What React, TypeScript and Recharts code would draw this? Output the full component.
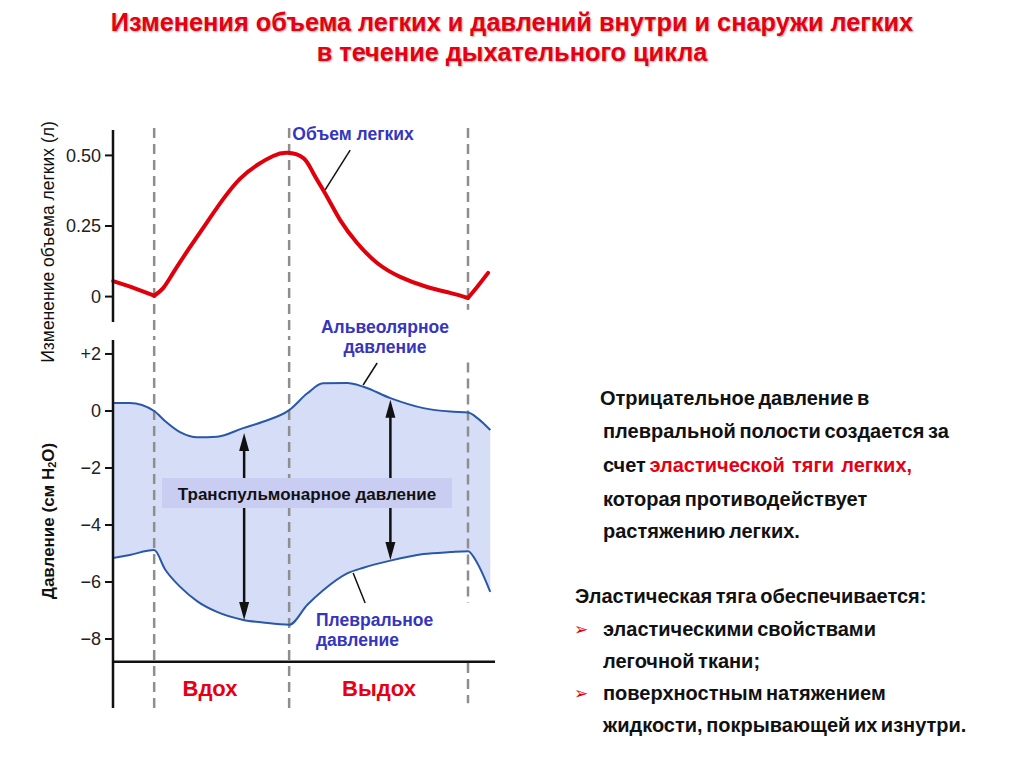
import React from 'react';
import { ComposedChart, Line, Area, XAxis, YAxis, ReferenceLine } from 'recharts';

// time axis (s): 0 = start of inspiration, 2 = start of expiration, 4.65 = end of cycle
const volumeTime = [-0.607, -0.356, 0, 0.133, 0.281, 0.533, 0.785, 1.022, 1.274, 1.526, 1.763, 1.97, 2.207, 2.356, 2.563, 2.756, 3.007, 3.304, 3.644, 4.044, 4.385, 4.65, 4.785, 4.948];
const volumeValues = [0.055, 0.035, 0.003, 0.03, 0.084, 0.176, 0.264, 0.345, 0.418, 0.466, 0.498, 0.509, 0.491, 0.438, 0.353, 0.271, 0.19, 0.119, 0.07, 0.034, 0.013, -0.005, 0.034, 0.084];

const pressureTime = [-0.61, -0.36, 0, 0.16, 0.39, 0.64, 0.93, 1.32, 1.61, 2.0, 2.27, 2.5, 2.86, 3.1, 3.5, 3.99, 4.39, 4.65, 4.79, 4.98];
const alveolarValues = [0.28, 0.28, 0, -0.35, -0.75, -0.92, -0.9, -0.6, -0.38, 0.03, 0.62, 0.97, 0.98, 0.85, 0.45, 0.1, -0.02, -0.05, -0.25, -0.67];
const pleuralValues = [-5.16, -5.05, -4.88, -5.55, -6.18, -6.68, -7.05, -7.33, -7.42, -7.5, -6.8, -6.3, -5.7, -5.5, -5.25, -5.02, -4.95, -4.92, -5.35, -6.35];

const phaseMarks = [0, 2, 4.65];
const volumeTicks = [0, 0.25, 0.5];
const volumeTickLabels = ['0', '0.25', '0.50'];
const pressureTicks = [2, 0, -2, -4, -6, -8];
const pressureTickLabels = ['+2', '0', '\u22122', '\u22124', '\u22126', '\u22128'];

// split the volume trace at the phase marks so the turning points stay sharp
const volumeData = volumeTime.map((t, i) => ({
  t,
  v0: t <= phaseMarks[0] ? volumeValues[i] : null,
  v1: t >= phaseMarks[0] && t <= phaseMarks[2] ? volumeValues[i] : null,
  v2: t >= phaseMarks[2] ? volumeValues[i] : null,
}));
const pressureData = pressureTime.map((t, i) => ({
  t,
  alv: alveolarValues[i],
  pl: pleuralValues[i],
  range: [pleuralValues[i], alveolarValues[i]],
}));

const FONT = '"Liberation Sans", Arial, sans-serif';
const DASH = { stroke: '#8e8e8e', strokeWidth: 2.5, strokeDasharray: '10 6' };
const BLUE = '#3535bd';
const RED = '#e60012';
const VOL = { stroke: '#e0000c', strokeWidth: 4, dot: false, isAnimationActive: false, strokeLinecap: 'round' as const };

const DoubleArrow = (props: any) => {
  const { x1, y1, y2 } = props;
  const top = Math.min(y1, y2);
  const bot = Math.max(y1, y2);
  return (
    <g>
      <line x1={x1} y1={top + 12} x2={x1} y2={bot - 12} stroke="#111" strokeWidth={2.5} />
      <polygon points={`${x1},${top} ${x1 - 5},${top + 18} ${x1 + 5},${top + 18}`} fill="#111" />
      <polygon points={`${x1},${bot} ${x1 - 5},${bot - 18} ${x1 + 5},${bot - 18}`} fill="#111" />
    </g>
  );
};

const tickStyle = { fontSize: 18, fill: '#222', fontFamily: FONT };

const rightLines: { x: number; y: number; text: React.ReactNode; bullet?: boolean }[] = [
  { x: 600, y: 398, text: 'Отрицательное давление в' },
  { x: 603, y: 431, text: 'плевральной полости создается за' },
  { x: 603, y: 465, text: <>счет <span style={{ color: RED }}>эластической&nbsp; тяги&nbsp; легких,</span></> },
  { x: 603, y: 499, text: 'которая противодействует' },
  { x: 603, y: 531, text: 'растяжению легких.' },
  { x: 575, y: 596, text: 'Эластическая тяга обеспечивается:' },
  { x: 603, y: 629, text: 'эластическими свойствами', bullet: true },
  { x: 603, y: 661, text: 'легочной ткани;' },
  { x: 603, y: 693, text: 'поверхностным натяжением', bullet: true },
  { x: 603, y: 725, text: 'жидкости, покрывающей их изнутри.' },
];

export default function App() {
  return (
    <div style={{ position: 'absolute', left: 0, top: 0, width: 1024, height: 768, background: '#fff', overflow: 'hidden', fontFamily: FONT }}>
      <div style={{ position: 'absolute', left: 0, top: 7, width: 1024, textAlign: 'center', color: RED, fontWeight: 'bold', fontSize: 25.3, lineHeight: '30px', fontFamily: '"Liberation Sans Narrow", "Liberation Sans", Arial, sans-serif', textShadow: '1px 1px 2px rgba(0,0,0,0.35)' }}>
        Изменения объема легких и давлений внутри и снаружи легких
        <br />в течение дыхательного цикла
      </div>

      {/* volume chart */}
      <div style={{ position: 'absolute', left: 0, top: 0 }}>
        <ComposedChart width={520} height={360} data={volumeData} margin={{ top: 130, right: 25, bottom: 38, left: 13 }}>
          <XAxis dataKey="t" type="number" domain={[-0.61, 5.05]} hide />
          <YAxis
            type="number"
            domain={[-0.09, 0.59]}
            ticks={volumeTicks}
            tickFormatter={(v: number) => volumeTickLabels[volumeTicks.indexOf(v)]}
            width={100}
            tick={tickStyle}
            tickSize={8}
            tickMargin={4}
            axisLine={{ stroke: '#111', strokeWidth: 2.5 }}
            tickLine={{ stroke: '#111', strokeWidth: 2 }}
          />
          <ReferenceLine segment={[{ x: phaseMarks[0], y: 0.597 }, { x: phaseMarks[0], y: -0.154 }]} ifOverflow="visible" {...DASH} />
          <ReferenceLine segment={[{ x: phaseMarks[1], y: 0.597 }, { x: phaseMarks[1], y: -0.154 }]} ifOverflow="visible" {...DASH} />
          <ReferenceLine segment={[{ x: phaseMarks[2], y: 0.597 }, { x: phaseMarks[2], y: -0.047 }]} ifOverflow="visible" {...DASH} />
          <ReferenceLine segment={[{ x: 2.904, y: 0.519 }, { x: 2.533, y: 0.378 }]} ifOverflow="visible" stroke="#111" strokeWidth={1.5} />
          <Line type="linear" dataKey="v0" {...VOL} />
          <Line type="natural" dataKey="v1" {...VOL} />
          <Line type="linear" dataKey="v2" {...VOL} />
        </ComposedChart>
      </div>

      {/* pressure chart */}
      <div style={{ position: 'absolute', left: 0, top: 0 }}>
        <ComposedChart width={520} height={768} data={pressureData} margin={{ top: 340, right: 25, bottom: 60, left: 13 }}>
          <XAxis dataKey="t" type="number" domain={[-0.61, 5.05]} height={0} tick={false} tickLine={false} axisLine={{ stroke: '#111', strokeWidth: 2.5 }} />
          <YAxis
            type="number"
            domain={[-10.42, 2.49]}
            ticks={pressureTicks}
            tickFormatter={(v: number) => pressureTickLabels[pressureTicks.indexOf(v)]}
            width={100}
            tick={tickStyle}
            tickSize={8}
            tickMargin={4}
            axisLine={{ stroke: '#111', strokeWidth: 2.5 }}
            tickLine={{ stroke: '#111', strokeWidth: 2 }}
          />
          <Area type="monotone" dataKey="range" fill="#d6ddf6" fillOpacity={1} stroke="none" isAnimationActive={false} />
          <ReferenceLine y={-8.8} stroke="#111" strokeWidth={2.5} />
          <ReferenceLine x={phaseMarks[0]} {...DASH} />
          <ReferenceLine x={phaseMarks[1]} {...DASH} />
          <ReferenceLine segment={[{ x: phaseMarks[2], y: 1.7 }, { x: phaseMarks[2], y: -6.74 }]} {...DASH} />
          <ReferenceLine segment={[{ x: phaseMarks[2], y: -8.84 }, { x: phaseMarks[2], y: -10.25 }]} {...DASH} />
          <Line type="monotone" dataKey="alv" stroke="#2a58a8" strokeWidth={2} dot={false} isAnimationActive={false} />
          <Line type="monotone" dataKey="pl" stroke="#2a58a8" strokeWidth={2} dot={false} isAnimationActive={false} />
          <ReferenceLine segment={[{ x: 3.304, y: 1.684 }, { x: 3.096, y: 0.912 }]} stroke="#111" strokeWidth={1.5} />
          <ReferenceLine segment={[{ x: 3.126, y: -6.737 }, { x: 2.948, y: -5.684 }]} stroke="#111" strokeWidth={1.5} />
          <ReferenceLine segment={[{ x: 1.333, y: -0.77 }, { x: 1.333, y: -7.33 }]} shape={DoubleArrow} />
          <ReferenceLine segment={[{ x: 3.5, y: 0.39 }, { x: 3.5, y: -5.23 }]} shape={DoubleArrow} />
        </ComposedChart>
      </div>

      {/* annotations */}
      <svg width={1024} height={768} style={{ position: 'absolute', left: 0, top: 0, pointerEvents: 'none' }} fontFamily={FONT}>
        <text x={48} y={242} transform="rotate(-90 48 242)" textAnchor="middle" dominantBaseline="central" fontSize={17.5} fill="#111">
          Изменение объема легких (л)
        </text>
        <text x={48} y={521} transform="rotate(-90 48 521)" textAnchor="middle" dominantBaseline="central" fontSize={17} fontWeight="bold" fill="#111">
          Давление (см H<tspan fontSize={11} dy={4}>2</tspan><tspan dy={-4}>O)</tspan>
        </text>
        <text x={353} y={134} textAnchor="middle" dominantBaseline="central" fontSize={17.5} fontWeight="bold" fill={BLUE}>Объем легких</text>
        <text x={385} y={327} textAnchor="middle" dominantBaseline="central" fontSize={17.5} fontWeight="bold" fill={BLUE}>Альвеолярное</text>
        <text x={385} y={347} textAnchor="middle" dominantBaseline="central" fontSize={17.5} fontWeight="bold" fill={BLUE}>давление</text>
        <text x={316} y={620} dominantBaseline="central" fontSize={17.5} fontWeight="bold" fill={BLUE}>Плевральное</text>
        <text x={316} y={640} dominantBaseline="central" fontSize={17.5} fontWeight="bold" fill={BLUE}>давление</text>
        <rect x={162} y={478} width={290} height={30} fill="#c9cdf2" />
        <text x={307} y={494} textAnchor="middle" dominantBaseline="central" fontSize={17} fontWeight="bold" fill="#111">Транспульмонарное давление</text>
        <text x={210} y={688} textAnchor="middle" dominantBaseline="central" fontSize={22} fontWeight="bold" fill={RED}>Вдох</text>
        <text x={379} y={688} textAnchor="middle" dominantBaseline="central" fontSize={22} fontWeight="bold" fill={RED}>Выдох</text>
      </svg>

      {rightLines.map((l, i) => (
        <React.Fragment key={i}>
          {l.bullet && (
            <div style={{ position: 'absolute', left: 574, top: l.y - 12, lineHeight: '24px', fontSize: 17, color: RED, fontFamily: '"DejaVu Sans", sans-serif' }}>➢</div>
          )}
          <div style={{ position: 'absolute', left: l.x, top: l.y - 12, lineHeight: '24px', fontSize: 20, fontWeight: 'bold', color: '#111', whiteSpace: 'nowrap', wordSpacing: -2 }}>
            {l.text}
          </div>
        </React.Fragment>
      ))}
    </div>
  );
}
